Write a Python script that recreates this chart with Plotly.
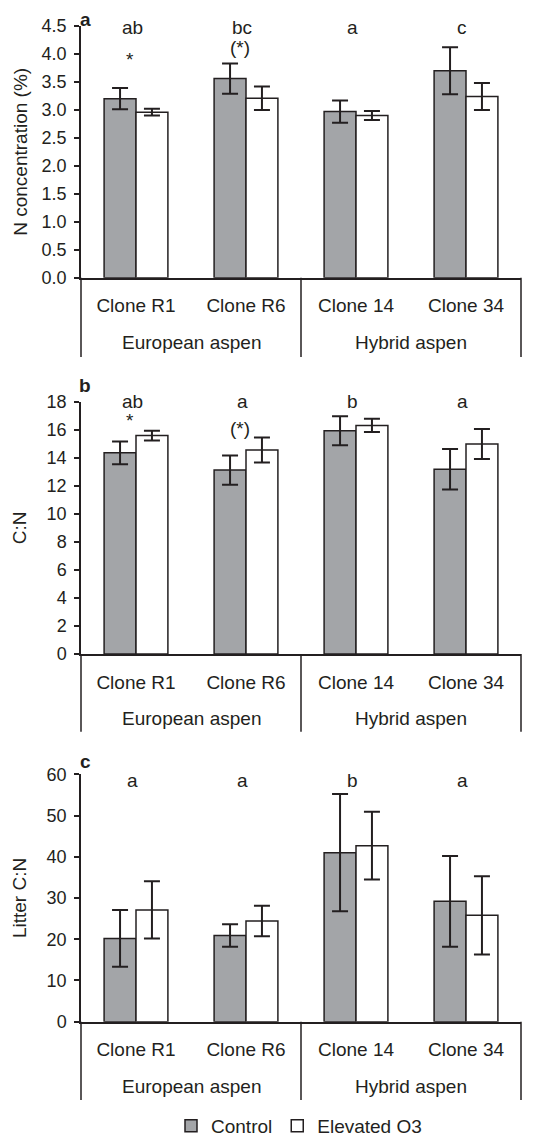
import plotly.graph_objects as go

clones = ["Clone R1", "Clone R6", "Clone 14", "Clone 34"]
groups = ["European aspen", "Hybrid aspen"]
series_names = ["Control", "Elevated O3"]

n_control = [3.20, 3.56, 2.97, 3.70]
n_control_err = [0.19, 0.27, 0.20, 0.42]
n_elev = [2.96, 3.21, 2.90, 3.24]
n_elev_err = [0.06, 0.21, 0.08, 0.24]

cn_control = [14.35, 13.12, 15.93, 13.18]
cn_control_err = [0.81, 1.04, 1.03, 1.45]
cn_elev = [15.58, 14.55, 16.31, 14.98]
cn_elev_err = [0.34, 0.89, 0.48, 1.07]

lcn_control = [20.2, 20.9, 41.0, 29.2]
lcn_control_err = [6.9, 2.75, 14.2, 11.0]
lcn_elev = [27.1, 24.4, 42.7, 25.8]
lcn_elev_err = [6.95, 3.7, 8.2, 9.5]

letters_a = ["ab", "bc", "a", "c"]
letters_b = ["ab", "a", "b", "a"]
letters_c = ["a", "a", "b", "a"]
stars_a = ["*", "(*)", "", ""]
stars_b = ["*", "(*)", "", ""]

y_titles = ["N concentration (%)", "C:N", "Litter C:N"]
panel_labels = ["a", "b", "c"]

INK = "#231f20"
GRAY = "#a3a5a8"
FONT = "Liberation Sans, Arial, sans-serif"
FS = 19
OFF = 8  # page body margin
W, H = 533 - OFF, 1136 - OFF


def py(v):
    return v - OFF


panels = [
    dict(ctrl=n_control, ce=n_control_err, elev=n_elev, ee=n_elev_err,
         letters=letters_a, stars=stars_a, rng=[0, 4.5], dtick=0.5, fmt=".1f",
         top=26, bot=277.7, sep=357, grp=342, lety=0.996, stary=[0.865, 0.913],
         title=y_titles[0], label=panel_labels[0], labely=20, standoff=9),
    dict(ctrl=cn_control, ce=cn_control_err, elev=cn_elev, ee=cn_elev_err,
         letters=letters_b, stars=stars_b, rng=[0, 18], dtick=2, fmt="d",
         top=401.7, bot=654, sep=731.7, grp=718, lety=0.999, stary=[0.927, 0.892],
         title=y_titles[1], label=panel_labels[1], labely=385.5, standoff=15),
    dict(ctrl=lcn_control, ce=lcn_control_err, elev=lcn_elev, ee=lcn_elev_err,
         letters=letters_c, stars=None, rng=[0, 60], dtick=10, fmt="d",
         top=774.3, bot=1021.7, sep=1100, grp=1086.7, lety=0.973, stary=None,
         title=y_titles[2], label=panel_labels[2], labely=761.5, standoff=15),
]

x0px, x1px = py(81), py(521)

fig = go.Figure()
layout = dict(
    width=W, height=H, margin=dict(l=0, r=0, t=0, b=0, pad=0, autoexpand=False),
    paper_bgcolor="white", plot_bgcolor="white",
    font=dict(family=FONT, size=FS, color=INK),
    barmode="group", bargap=0.42, bargroupgap=0,
    showlegend=True,
    legend=dict(orientation="h", x=py(171) / W, xanchor="left",
                y=(H - py(1126)) / H, yanchor="middle",
                font=dict(size=FS, color=INK), itemwidth=30, tracegroupgap=0,
                bgcolor="rgba(0,0,0,0)"),
)
annotations = []
shapes = []

for i, p in enumerate(panels):
    k = "" if i == 0 else str(i + 1)
    xa, ya = "x" + k, "y" + k
    for name, vals, errs, color in [(series_names[0], p["ctrl"], p["ce"], GRAY),
                                    (series_names[1], p["elev"], p["ee"], "white")]:
        fig.add_trace(go.Bar(
            x=clones, y=vals, name=name, xaxis=xa, yaxis=ya,
            marker=dict(color=color, line=dict(color=INK, width=1.5)),
            error_y=dict(type="data", array=errs, visible=True, color=INK,
                         thickness=2, width=8),
            showlegend=(i == 2), legendgroup=name,
        ))
    top, bot = py(p["top"]), py(p["bot"])
    ydom = [(H - bot) / H, (H - top) / H]
    hpx = bot - top
    layout["xaxis" + k] = dict(
        domain=[x0px / W, x1px / W], anchor=ya, type="category", automargin=False,
        showline=True, linecolor=INK, linewidth=1.5, ticks="",
        showgrid=False, zeroline=False, tickfont=dict(size=FS, color=INK),
        ticklabelstandoff=10, fixedrange=True,
    )
    layout["yaxis" + k] = dict(
        domain=ydom, anchor=xa, range=p["rng"], dtick=p["dtick"], tick0=0, automargin=False,
        tickformat=p["fmt"], showline=True, linecolor=INK, linewidth=1.5,
        ticks="outside", ticklen=5, tickwidth=1.5, tickcolor=INK,
        showgrid=False, zeroline=False, tickfont=dict(size=18, color=INK),
        ticklabelstandoff=4,
        title=dict(text=p["title"], font=dict(size=FS, color=INK), standoff=p["standoff"]),
    )
    below = -(p["sep"] - p["bot"]) / hpx
    for xd in [0, 0.5, 1]:
        shapes.append(dict(type="line", xref=xa + " domain", yref=ya + " domain",
                           x0=xd, x1=xd, y0=0, y1=below,
                           line=dict(color=INK, width=1.5)))
    gy = -(p["grp"] - p["bot"]) / hpx
    for gi, g in enumerate(groups):
        annotations.append(dict(text=g, xref=xa + " domain", yref=ya + " domain",
                                x=0.25 + 0.5 * gi, y=gy, showarrow=False,
                                xanchor="center", yanchor="middle",
                                font=dict(size=FS, color=INK)))
    for ci, c in enumerate(clones):
        annotations.append(dict(text=p["letters"][ci], xref=xa, yref=ya + " domain",
                                x=c, y=p["lety"], showarrow=False, xshift=-4,
                                xanchor="center", yanchor="middle",
                                font=dict(size=FS, color=INK)))
        if p["stars"] and p["stars"][ci]:
            annotations.append(dict(text=p["stars"][ci], xref=xa, yref=ya + " domain",
                                    x=c, y=p["stary"][ci], showarrow=False, xshift=-6,
                                    xanchor="center", yanchor="middle",
                                    font=dict(size=FS, color=INK)))
    annotations.append(dict(text="<b>" + p["label"] + "</b>", xref="paper", yref="paper",
                            x=py(85) / W, y=(H - py(p["labely"])) / H, showarrow=False,
                            xanchor="center", yanchor="middle", borderpad=0,
                            font=dict(size=FS, color=INK)))

layout["annotations"] = annotations
layout["shapes"] = shapes
fig.update_layout(**layout)
fig.write_html("out.html")
